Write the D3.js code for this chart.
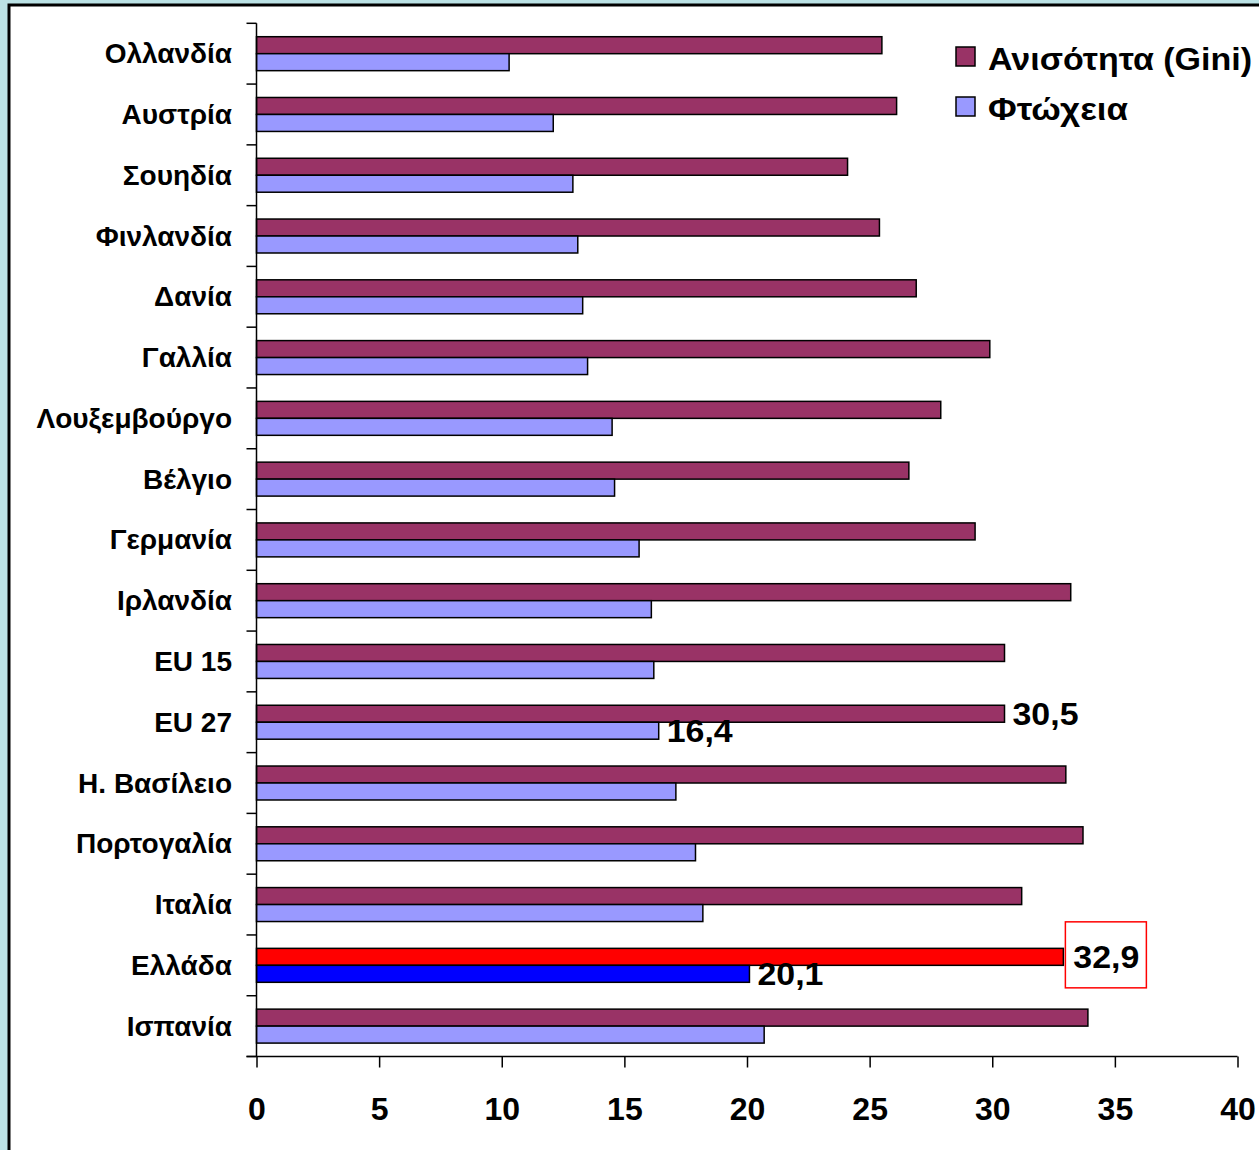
<!DOCTYPE html>
<html><head><meta charset="utf-8">
<script src="https://cdn.jsdelivr.net/npm/d3@7"></script>
<style>
html,body{margin:0;padding:0;background:#BBE2E5;}
svg{display:block;font-family:"Liberation Sans",Arial,sans-serif;font-weight:bold;}
</style></head><body>
<svg id="c" width="1259" height="1150"></svg>
<script>
const categories = ["Ολλανδία","Αυστρία","Σουηδία","Φινλανδία","Δανία","Γαλλία","Λουξεμβούργο","Βέλγιο","Γερμανία","Ιρλανδία","EU 15","EU 27","Η. Βασίλειο","Πορτογαλία","Ιταλία","Ελλάδα","Ισπανία"];
const gini    = [25.5,26.1,24.1,25.4,26.9,29.9,27.9,26.6,29.3,33.2,30.5,30.5,33.0,33.7,31.2,32.9,33.9];
const poverty = [10.3,12.1,12.9,13.1,13.3,13.5,14.5,14.6,15.6,16.1,16.2,16.4,17.1,17.9,18.2,20.1,20.7];
const seriesNames = ["Ανισότητα (Gini)","Φτώχεια"];
const seriesKeys = ["gini","poverty"];
const xTicks = [0,5,10,15,20,25,30,35,40];
const labelled = [{cat:"EU 27",key:"gini",text:"30,5"},{cat:"EU 27",key:"poverty",text:"16,4"},{cat:"Ελλάδα",key:"gini",text:"32,9",boxed:true},{cat:"Ελλάδα",key:"poverty",text:"20,1"}];

const colors = {gini:"#993366", poverty:"#9999FF"};
const highlight = {"Ελλάδα":{gini:"#FF0000", poverty:"#0000FF"}};

const svg = d3.select("#c");
svg.append("rect").attr("x",9).attr("y",5).attr("width",1300).attr("height",1200)
  .attr("fill","#fff").attr("stroke","#000").attr("stroke-width",3);

const x = d3.scaleLinear().domain([0,40]).range([256.5,1237.5]);
const y = d3.scaleBand().domain(categories).range([23.3,1056.5]).paddingInner(0).paddingOuter(0);
const ys = d3.scaleBand().domain(seriesKeys).range([0,y.bandwidth()]).paddingInner(0).paddingOuter(0.79);

const data = categories.map((c,i)=>({cat:c, gini:gini[i], poverty:poverty[i]}));

const g = svg.append("g");
data.forEach(d=>{
  seriesKeys.forEach(k=>{
    const col = (highlight[d.cat] && highlight[d.cat][k]) || colors[k];
    g.append("rect")
      .attr("x",x(0)).attr("y",y(d.cat)+ys(k))
      .attr("width",x(d[k])-x(0)).attr("height",ys.bandwidth())
      .attr("fill",col).attr("stroke","#000").attr("stroke-width",1.5);
  });
});

// y axis
const yAxisG = svg.append("g");
yAxisG.append("line").attr("x1",x(0)).attr("x2",x(0)).attr("y1",y.range()[0]).attr("y2",y.range()[1]).attr("stroke","#000").attr("stroke-width",1.5);
const bounds = categories.map(c=>y(c)).concat([y.range()[1]]);
bounds.forEach(b=>{
  yAxisG.append("line").attr("x1",x(0)-10).attr("x2",x(0)).attr("y1",b).attr("y2",b).attr("stroke","#000").attr("stroke-width",1.5);
});
yAxisG.selectAll("text.cat").data(categories).enter().append("text")
  .attr("class","cat").attr("x",232).attr("y",c=>y(c)+y.bandwidth()/2+9.5)
  .attr("text-anchor","end").attr("font-size",28).attr("fill","#000").text(c=>c);

// x axis
const xAxis = d3.axisBottom(x).tickValues(xTicks).tickSize(11).tickFormat(d3.format("d"));
const xg = svg.append("g").attr("transform",`translate(0,${y.range()[1]})`).call(xAxis);
xg.select(".domain").attr("d",`M${x(0)-10},0H${x(40)}`).attr("stroke","#000").attr("stroke-width",1.5);
xg.selectAll(".tick line").attr("stroke","#000").attr("stroke-width",1.5);
xg.selectAll(".tick text").attr("y",63.5).attr("dy",0).attr("font-size",32)
  .attr("font-family","'Liberation Sans',Arial,sans-serif").attr("font-weight","bold").attr("fill","#000");

// data labels
labelled.forEach(l=>{
  const d = data.find(e=>e.cat===l.cat);
  const cy = y(l.cat)+ys(l.key)+ys.bandwidth()/2;
  const tx = x(d[l.key])+ (l.boxed?10:8);
  if(l.boxed){
    svg.append("rect").attr("x",x(d[l.key])+2).attr("y",cy-35).attr("width",81).attr("height",66)
      .attr("fill","#fff").attr("stroke","#FF0000").attr("stroke-width",1.5);
  }
  svg.append("text").attr("x",tx).attr("y",cy+11.5).attr("font-size",32)
    .attr("textLength",66).attr("lengthAdjust","spacingAndGlyphs").attr("fill","#000").text(l.text);
});

// legend
const legendWidths = [264,140];
const lg = svg.append("g");
seriesKeys.forEach((k,i)=>{
  lg.append("rect").attr("x",956).attr("y",47+i*50).attr("width",19).attr("height",19)
    .attr("fill",colors[k]).attr("stroke","#000").attr("stroke-width",1.5);
  lg.append("text").attr("x",988).attr("y",70+i*50).attr("font-size",31)
    .attr("textLength",legendWidths[i]).attr("lengthAdjust","spacingAndGlyphs")
    .attr("fill","#000").text(seriesNames[i]);
});
</script>
</body></html>
